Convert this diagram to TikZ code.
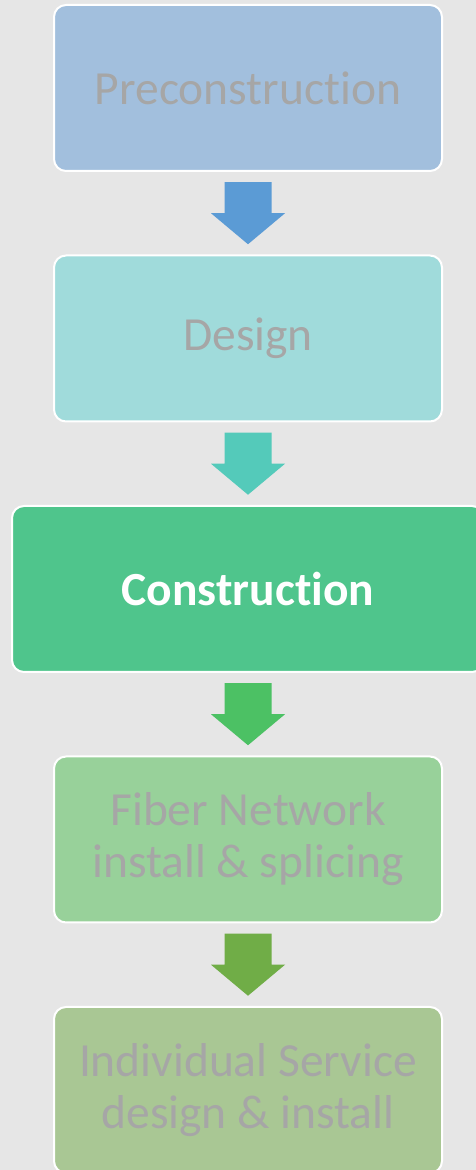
\documentclass[tikz,border=0pt]{standalone}
\usepackage{fontspec}
\setmainfont{Carlito}[Ligatures=NoCommon]
\usetikzlibrary{positioning,calc}

\definecolor{bgray}{HTML}{E6E6E6}
\definecolor{txtgray}{HTML}{A6A6A6}
\definecolor{preblue}{HTML}{A2BFDD}
\definecolor{desteal}{HTML}{A0DBDB}
\definecolor{congreen}{HTML}{4FC58C}
\definecolor{fibgreen}{HTML}{98D19A}
\definecolor{indgreen}{HTML}{A9C794}
\definecolor{arrA}{HTML}{5B9BD5}
\definecolor{arrB}{HTML}{54CABA}
\definecolor{arrC}{HTML}{4CC164}
\definecolor{arrD}{HTML}{70AD47}

\tikzset{
  stage/.style={draw=white, line width=2pt, rounded corners=12pt, minimum width=388pt, minimum height=166pt,
    align=center, text=txtgray, font=\fontsize{47.5}{52}\selectfont, inner sep=0pt},
  current/.style={stage, minimum width=472pt, text=white, font=\fontsize{47.5}{52}\selectfont\bfseries}
}

% block arrow half way between two stages
\newcommand{\stagearrow}[3]{%
  \coordinate (m) at ($(#2.south)!0.5!(#3.north)$);
  \fill[#1] ($(m)+(-23.5pt,31pt)$) -- ($(m)+(23.5pt,31pt)$) -- ($(m)+(23.5pt,0pt)$) -- ($(m)+(37pt,0pt)$)
    -- ($(m)+(0pt,-31pt)$) -- ($(m)+(-37pt,0pt)$) -- ($(m)+(-23.5pt,0pt)$) -- cycle;
}

\begin{document}
\begin{tikzpicture}[x=1pt, y=1pt]
    \fill[bgray] (0,0) rectangle (476,1170);
    \useasboundingbox (0,0) rectangle (476,1170);
    \node[stage, fill=preblue] (pre) at (248,1082) {Preconstruction};
    \node[stage, fill=desteal, below=82.5pt of pre] (des) {Design};
    \node[current, fill=congreen, below=82.5pt of des] (con) {Construction};
    \node[stage, fill=fibgreen, below=82.5pt of con] (fib) {Fiber Network\\install \& splicing};
    \node[stage, fill=indgreen, below=82.5pt of fib] (ind) {Individual Service\\design \& install};
    \stagearrow{arrA}{pre}{des}
    \stagearrow{arrB}{des}{con}
    \stagearrow{arrC}{con}{fib}
    \stagearrow{arrD}{fib}{ind}
\end{tikzpicture}
\end{document}
